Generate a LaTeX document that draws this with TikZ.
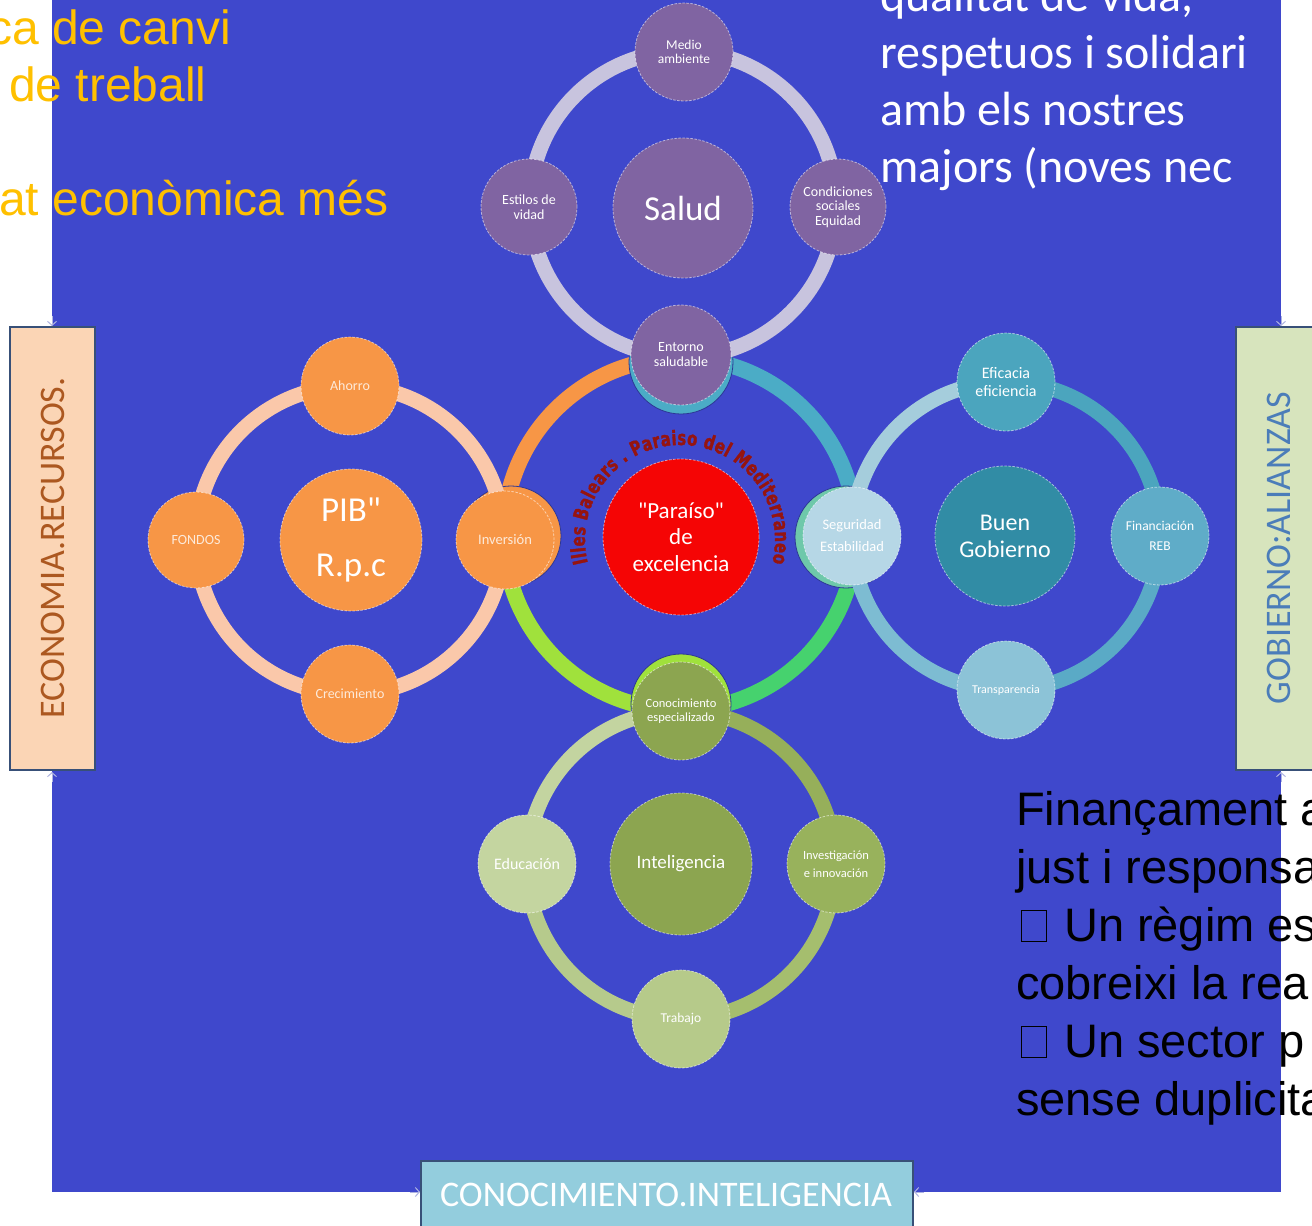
\documentclass[tikz,border=0pt]{standalone}
\usepackage{fontspec}
\setmainfont{Carlito}
\newfontfamily\arialf{Liberation Sans}
\newfontfamily\arcf[FakeStretch=0.74,FakeBold=1.6]{DejaVu Sans Bold}
\usetikzlibrary{decorations.text,arrows.meta}
\definecolor{bgblue}{RGB}{63,72,204}
\definecolor{purp}{RGB}{128,100,162}
\definecolor{purpring}{RGB}{200,196,222}
\definecolor{orng}{RGB}{247,150,70}
\definecolor{orngring}{RGB}{250,200,170}
\definecolor{orngtxt}{RGB}{253,234,218}
\definecolor{tealA}{RGB}{75,165,190}
\definecolor{tealB}{RGB}{49,140,165}
\definecolor{tealC}{RGB}{95,172,200}
\definecolor{tealD}{RGB}{140,195,215}
\definecolor{tealE}{RGB}{182,215,230}
\definecolor{trA}{RGB}{165,205,220}
\definecolor{trB}{RGB}{75,165,190}
\definecolor{trC}{RGB}{90,170,198}
\definecolor{trD}{RGB}{125,188,210}
\definecolor{grA}{RGB}{140,165,80}
\definecolor{grB}{RGB}{152,178,92}
\definecolor{grC}{RGB}{182,202,138}
\definecolor{grD}{RGB}{196,213,160}
\definecolor{grrA}{RGB}{195,212,160}
\definecolor{grrB}{RGB}{150,175,90}
\definecolor{grrC}{RGB}{165,190,110}
\definecolor{grrD}{RGB}{182,202,140}
\definecolor{cTeal}{RGB}{75,172,198}
\definecolor{cGreen}{RGB}{70,210,110}
\definecolor{cLime}{RGB}{160,225,60}
\definecolor{cSeg}{RGB}{110,200,170}
\definecolor{redc}{RGB}{245,5,5}
\definecolor{arcred}{RGB}{150,20,15}
\definecolor{peach}{RGB}{251,213,181}
\definecolor{sgreen}{RGB}{215,228,189}
\definecolor{sblue}{RGB}{147,205,221}
\definecolor{boxline}{RGB}{56,80,120}
\definecolor{econtxt}{RGB}{172,88,32}
\definecolor{gobtxt}{RGB}{75,125,185}
\definecolor{orangetxt}{RGB}{255,192,0}
\definecolor{chevc}{RGB}{175,180,225}
\definecolor{darkrim}{RGB}{45,55,150}
\newcommand{\fsz}[2]{\fontsize{#1}{#2}\selectfont}
\newcommand{\tofu}{\hspace*{5pt}{\fboxsep=0pt\fboxrule=0.9pt\fbox{\rule{0pt}{30pt}\hspace{24pt}}}\hspace*{4pt}}
\begin{document}
\begin{tikzpicture}[x=1pt,y=-1pt,
  ringline/.style={line width=15pt},
  cring/.style={line width=16pt},
  bub/.style={circle, inner sep=0pt, align=center, text=white, draw=white, draw opacity=0.55, line width=0.8pt, dash pattern=on 2.5pt off 1.5pt},
  under/.style={circle, inner sep=0pt, draw=darkrim, line width=0.8pt},
  ptext/.style={anchor=base west, inner sep=0pt},
  sidebox/.style={rectangle, draw=boxline, line width=2.5pt, inner sep=0pt},
  chev/.style={draw=chevc, line width=1pt, -{Straight Barb[length=4pt,width=9pt]}}]
\useasboundingbox (0,0) rectangle (1312,1226);
\fill[white] (0,0) rectangle (1312,1226);
\fill[bgblue] (52,0) rectangle (1281,1192);

% central ring
\coordinate (cc) at (680,534);
\draw[cring, orng] (cc) ++(180:176) arc[start angle=180, end angle=270, radius=176];
\draw[cring, cTeal] (cc) ++(270:176) arc[start angle=270, end angle=360, radius=176];
\draw[cring, cGreen] (cc) ++(0:176) arc[start angle=0, end angle=90, radius=176];
\draw[cring, cLime] (cc) ++(90:176) arc[start angle=90, end angle=180, radius=176];
\node[under, fill=cTeal, minimum size=104pt] (uTop) at (681,362) {};
\node[under, fill=orng, minimum size=100pt] (uLeft) at (511,536) {};
\node[under, fill=cSeg, minimum size=102pt] (uRight) at (846,537) {};
\node[under, fill=cLime, minimum size=100pt] (uBot) at (681,704) {};

% group rings
\draw[ringline, purpring] (683,204) circle[radius=153];
\draw[ringline, orngring] (350,540) circle[radius=154];
\coordinate (rc) at (1006,536);
\draw[ringline, trA] (rc) ++(180:154) arc[start angle=180, end angle=270, radius=154];
\draw[ringline, trB] (rc) ++(270:154) arc[start angle=270, end angle=360, radius=154];
\draw[ringline, trC] (rc) ++(0:154) arc[start angle=0, end angle=90, radius=154];
\draw[ringline, trD] (rc) ++(90:154) arc[start angle=90, end angle=180, radius=154];
\coordinate (bc) at (681,865);
\draw[ringline, grrA] (bc) ++(180:154) arc[start angle=180, end angle=270, radius=154];
\draw[ringline, grrB] (bc) ++(270:154) arc[start angle=270, end angle=360, radius=154];
\draw[ringline, grrC] (bc) ++(0:154) arc[start angle=0, end angle=90, radius=154];
\draw[ringline, grrD] (bc) ++(90:154) arc[start angle=90, end angle=180, radius=154];

% top group (Salud)
\node[bub, fill=purp, minimum size=98pt, font=\fsz{13.5}{14}] (medio) at (684,52) {Medio\\ambiente};
\node[bub, fill=purp, minimum size=96pt, font=\fsz{14}{15}] (estilos) at (529,207) {Estilos de\\vidad};
\node[bub, fill=purp, minimum size=96pt, font=\fsz{14}{14.5}] (condic) at (838,207) {Condiciones\\sociales\\Equidad};
\node[bub, fill=purp, minimum size=140pt, font=\fsz{35}{35}] (salud) at (683,208) {Salud};
\node[bub, fill=purp, minimum size=100pt, font=\fsz{14}{15}] (entorno) at (681,355) {Entorno\\saludable};

% left group (PIB)
\node[bub, fill=orng, text=orngtxt, minimum size=98pt, font=\fsz{14}{14}] (ahorro) at (350,386) {Ahorro};
\node[bub, fill=orng, text=orngtxt, minimum size=96pt, font=\fsz{14}{14}] (fondos) at (196,540) {FONDOS};
\node[bub, fill=orng, minimum size=142pt, font=\fsz{35}{55}] (pib) at (351,540) {PIB\textquotedbl\\R.p.c};
\node[bub, fill=orng, text=orngtxt, minimum size=98pt, font=\fsz{14.5}{14.5}] (inversion) at (505,540) {Inversión};
\node[bub, fill=orng, text=orngtxt, minimum size=98pt, font=\fsz{14}{14}] (crecim) at (350,694) {Crecimiento};

% right group (Buen Gobierno)
\node[bub, fill=tealA, minimum size=98pt, font=\fsz{16}{18}] (eficacia) at (1006,382) {Eficacia\\eficiencia};
\node[bub, fill=tealE, minimum size=98pt, font=\fsz{14.5}{22}] (segur) at (852,536) {Seguridad\\Estabilidad};
\node[bub, fill=tealB, minimum size=140pt, font=\fsz{24}{27}] (buen) at (1005,536) {Buen\\Gobierno};
\node[bub, fill=tealC, minimum size=98pt, font=\fsz{13.5}{20}] (financ) at (1160,536) {Financiación\\REB};
\node[bub, fill=tealD, minimum size=98pt, font=\fsz{12}{12}] (transp) at (1006,690) {Transparencia};

% bottom group (Inteligencia)
\node[bub, fill=grA, minimum size=98pt, font=\fsz{12.5}{14}] (conoc) at (681,711) {Conocimiento\\especializado};
\node[bub, fill=grD, minimum size=98pt, font=\fsz{16}{16}] (educ) at (527,864) {Educación};
\node[bub, fill=grA, minimum size=142pt, font=\fsz{19}{19}] (intel) at (681,864) {Inteligencia};
\node[bub, fill=grB, minimum size=98pt, font=\fsz{12.5}{18}] (invest) at (836,864) {Investigación\\e innovación};
\node[bub, fill=grC, minimum size=98pt, font=\fsz{13.5}{13.5}] (trabajo) at (681,1019) {Trabajo};

% centre
\node[bub, fill=redc, minimum size=156pt, font=\fsz{23}{26.5}] (paraiso) at (681,537) {\textquotedbl Paraíso\textquotedbl\\de\\excelencia};
\coordinate (ac) at (680,540);
\path[decorate, decoration={text along path, text align={fit to path},
  text={|\arcf\fsz{20}{20}\color{arcred}|Illes Balears . Paraiso del Mediterraneo}}]
  (ac) ++(166:95) arc[start angle=166, end angle=374, radius=95];

% side boxes
\node[sidebox, fill=peach, minimum width=85pt, minimum height=443pt] (econbox) at (52.5,548.5) {};
\node[rotate=90, text=econtxt, font=\fsz{36}{36}, inner sep=0pt] (econtext) at (52.5,548) {ECONOMIA.RECURSOS.};
\node[sidebox, fill=sgreen, minimum width=86pt, minimum height=443pt] (gobbox) at (1279,548.5) {};
\node[rotate=90, text=gobtxt, font=\fsz{36}{36}, inner sep=0pt] (gobtext) at (1279,548) {GOBIERNO:ALIANZAS};
\node[sidebox, fill=sblue, minimum width=492pt, minimum height=86pt] (conbox) at (667,1204) {};
\node[text=white, font=\fsz{36}{36}, inner sep=0pt] (context) at (666,1195) {CONOCIMIENTO.INTELIGENCIA};

% small chevrons
\coordinate (ch1a) at (52,316); \coordinate (ch1b) at (52,326);
\coordinate (ch2a) at (52,782); \coordinate (ch2b) at (52,772);
\coordinate (ch3a) at (1281,316); \coordinate (ch3b) at (1281,326);
\coordinate (ch4a) at (1281,782); \coordinate (ch4b) at (1281,772);
\coordinate (ch5a) at (410,1192); \coordinate (ch5b) at (420,1192);
\coordinate (ch6a) at (924,1192); \coordinate (ch6b) at (914,1192);
\draw[chev] (ch1a) -- (ch1b);
\draw[chev] (ch2a) -- (ch2b);
\draw[chev] (ch3a) -- (ch3b);
\draw[chev] (ch4a) -- (ch4b);
\draw[chev] (ch5a) -- (ch5b);
\draw[chev] (ch6a) -- (ch6b);

% text blocks
\node[ptext, text=orangetxt, font=\arialf\fsz{48}{57}] (o1) at (-12,44) {ca de canvi};
\node[ptext, text=orangetxt, font=\arialf\fsz{48}{57}] (o2) at (9,101) {de treball};
\node[ptext, text=orangetxt, font=\arialf\fsz{48}{57}] (o3) at (-1,215) {at econòmica més};

\node[ptext, text=white, font=\fsz{48}{57}] (w1) at (880,11) {qualitat de vida,};
\node[ptext, text=white, font=\fsz{48}{57}] (w2) at (880,68) {respetuos i solidari};
\node[ptext, text=white, font=\fsz{48}{57}] (w3) at (880,125) {amb els nostres};
\node[ptext, text=white, font=\fsz{48}{57}] (w4) at (880,182) {majors (noves nec};

\node[ptext, text=black, font=\arialf\fsz{47}{58}] (b1) at (1016,825) {Finançament a};
\node[ptext, text=black, font=\arialf\fsz{47}{58}] (b2) at (1016,883) {just i responsa};
\node[ptext, text=black, font=\arialf\fsz{47}{58}] (b3) at (1016,941) {\tofu{} Un règim es};
\node[ptext, text=black, font=\arialf\fsz{47}{58}] (b4) at (1016,999) {cobreixi la rea};
\node[ptext, text=black, font=\arialf\fsz{47}{58}] (b5) at (1016,1057) {\tofu{} Un sector p};
\node[ptext, text=black, font=\arialf\fsz{47}{58}] (b6) at (1016,1115) {sense duplicita};
\end{tikzpicture}
\end{document}
